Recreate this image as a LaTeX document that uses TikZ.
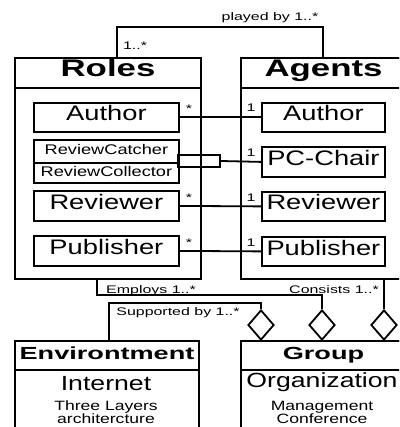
\documentclass[tikz,border=0pt]{standalone}
\usepackage{fontspec}
\usetikzlibrary{shapes.geometric}
\newfontfamily\narrowf[FakeStretch=1.3]{Liberation Sans}
\newfontfamily\widef[FakeStretch=1.45]{Liberation Sans}
\newfontfamily\widerf[FakeStretch=1.55]{Liberation Sans}
\tikzset{
  outer/.style={draw, line width=2pt, anchor=north west, inner sep=0pt},
  head/.style={outer, font=\widef\bfseries\fontsize{24}{24}\selectfont, text height=.72em, text depth=0pt},
  head2/.style={outer, font=\widerf\bfseries\fontsize{17.5}{17.5}\selectfont, text height=.72em, text depth=0pt},
  cls/.style={draw, line width=1.8pt, anchor=north west, inner sep=0pt, font=\narrowf\fontsize{21}{21}\selectfont, text height=.72em, text depth=0pt},
  subcls/.style={cls, font=\narrowf\fontsize{14}{14}\selectfont},
  body/.style={anchor=base, inner sep=0pt, font=\narrowf\fontsize{20.5}{20.5}\selectfont},
  body2/.style={anchor=base, inner sep=0pt, font=\narrowf\fontsize{13.5}{13.5}\selectfont},
  mult/.style={anchor=base, inner sep=0pt, font=\widef\fontsize{11}{11}\selectfont},
  link/.style={line width=1.8pt},
  agg/.style={diamond, draw, fill=white, line width=1.8pt, inner sep=0pt, minimum width=26pt, minimum height=30pt}
}
\begin{document}
\begin{tikzpicture}[x=1pt, y=-1pt]
\useasboundingbox (0,0) rectangle (399,427);
\clip (0,0) rectangle (399,427);
% roles
\node[outer, minimum width=186pt, minimum height=221pt] (roles) at (14,57){};
\node[head, minimum width=186pt, minimum height=30pt] (rolesh) at (14,57){Roles};
\node[cls, minimum width=145pt, minimum height=29pt] (rauthor) at (33,102){Author};
\node[subcls, minimum width=145pt, minimum height=23pt] (rcatch) at (33,139){ReviewCatcher};
\node[subcls, minimum width=145pt, minimum height=20pt] (rcollect) at (33,162){ReviewCollector};
\node[cls, minimum width=145pt, minimum height=30pt] (rreviewer) at (33,190){Reviewer};
\node[cls, minimum width=145pt, minimum height=30pt] (rpublisher) at (33,235){Publisher};
% agents
\node[outer, minimum width=165pt, minimum height=221pt] (agents) at (240,57){};
\node[head, minimum width=165pt, minimum height=30pt] (agentsh) at (240,57){Agents};
\node[cls, minimum width=123pt, minimum height=29pt] (aauthor) at (261,102){Author};
\node[cls, minimum width=123pt, minimum height=30pt] (apcchair) at (261,146){PC-Chair};
\node[cls, minimum width=123pt, minimum height=29pt] (areviewer) at (261,191){Reviewer};
\node[cls, minimum width=123pt, minimum height=29pt] (apublisher) at (261,236){Publisher};
% environment and group
\node[outer, minimum width=184pt, minimum height=110pt] (env) at (14,340){};
\node[head2, minimum width=184pt, minimum height=29pt] (envh) at (14,340){Environtment};
\node[body] (internet) at (106,390){Internet};
\node[body2] (layers) at (106,410){Three Layers};
\node[body2] (archi) at (106,423){architercture};
\node[outer, minimum width=165pt, minimum height=110pt] (group) at (240,340){};
\node[head2, minimum width=165pt, minimum height=29pt] (grouph) at (240,340){Group};
\node[body] (org) at (322,387){Organization};
\node[body2] (manag) at (322,410){Management};
\node[body2] (conf) at (322,423){Conference};
\node[agg] (dleft) at (261,325){};
\node[agg] (dmid) at (322,325){};
\node[agg] (dright) at (384,325){};
% links
\draw[link](rauthor.east) -- (aauthor.west);
\node[draw, link, minimum width=42pt, minimum height=12pt, inner sep=0pt] (join) at (199,161){};
\draw[link](join.east) -- (apcchair.west);
\draw[link](rreviewer.east) -- (areviewer.west);
\draw[link](rpublisher.east) -- (apublisher.west);
\node[mult] (m1) at (189,113){*};
\node[mult] (m2) at (251,112){1};
\node[mult] (m3) at (251,157){1};
\node[mult] (m4) at (189,202){*};
\node[mult] (m5) at (251,202){1};
\node[mult] (m6) at (189,246){*};
\node[mult] (m7) at (251,246){1};
\coordinate (pl1) at (117,57);
\coordinate (pl2) at (323,57);
\draw[link](pl1) -- ++(0,-30) -| (pl2);
\node[mult] (played) at (270,21){played by 1..*};
\node[mult] (m8) at (135,50){1..*};
\coordinate (emp) at (97,278);
\draw[link](emp) -- ++(0,17) -| (dmid.north);
\node[mult] (employs) at (151,293){Employs 1..*};
\coordinate (cons) at (384,278);
\draw[link](cons) -- (dright.north);
\node[mult] (consists) at (334,293){Consists 1..*};
\coordinate (sup) at (109,340);
\draw[link](sup) -- ++(0,-37) -| (dleft.north);
\node[mult] (supported) at (178,315){Supported by 1..*};
\end{tikzpicture}
\end{document}
